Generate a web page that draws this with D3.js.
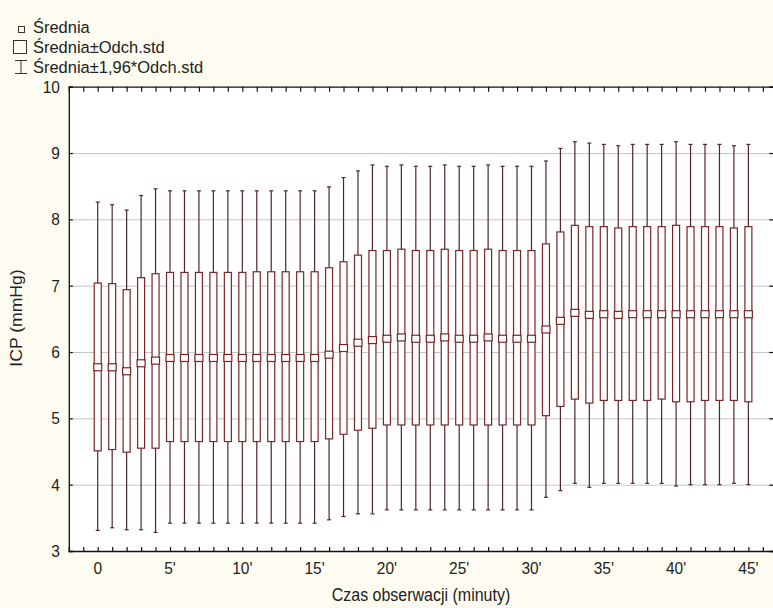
<!DOCTYPE html>
<html><head><meta charset="utf-8">
<script src="https://cdn.jsdelivr.net/npm/d3@7"></script>
<style>body{margin:0;background:#fefcf0;} svg{display:block;font-family:"Liberation Sans",Arial,sans-serif;}</style>
</head><body>
<svg id="c" width="773" height="608"></svg>
<script>
const minutes = d3.range(0, 46);
const tickLabels = ["0","5'","10'","15'","20'","25'","30'","35'","40'","45'"];
const yTicks = [3,4,5,6,7,8,9,10];
const meanVals = [5.77,5.77,5.71,5.83,5.87,5.91,5.91,5.91,5.91,5.91,5.91,5.91,5.91,5.91,5.91,5.91,5.96,6.06,6.14,6.18,6.20,6.22,6.20,6.20,6.22,6.20,6.20,6.22,6.20,6.20,6.20,6.34,6.47,6.59,6.56,6.57,6.56,6.57,6.57,6.57,6.57,6.57,6.57,6.57,6.57,6.57];
const sdLow = [4.51,4.53,4.49,4.55,4.55,4.65,4.65,4.65,4.65,4.65,4.65,4.65,4.65,4.65,4.65,4.65,4.69,4.76,4.82,4.85,4.90,4.90,4.90,4.90,4.90,4.90,4.90,4.90,4.90,4.90,4.90,5.04,5.18,5.29,5.23,5.27,5.27,5.27,5.27,5.29,5.25,5.25,5.27,5.27,5.27,5.25];
const sdHigh = [7.04,7.03,6.94,7.12,7.18,7.20,7.20,7.20,7.20,7.20,7.20,7.21,7.21,7.21,7.21,7.21,7.27,7.36,7.46,7.53,7.53,7.55,7.53,7.53,7.55,7.53,7.53,7.55,7.53,7.53,7.53,7.63,7.81,7.91,7.89,7.89,7.87,7.89,7.89,7.89,7.91,7.89,7.89,7.89,7.87,7.89];
const ciLow = [3.31,3.35,3.32,3.32,3.28,3.42,3.42,3.42,3.42,3.42,3.42,3.42,3.42,3.42,3.42,3.42,3.47,3.52,3.56,3.56,3.62,3.62,3.62,3.62,3.62,3.62,3.62,3.62,3.62,3.62,3.62,3.81,3.91,4.02,3.96,4.02,4.02,4.02,4.02,4.02,3.98,4.00,4.00,4.00,4.02,4.00];
const ciHigh = [8.26,8.22,8.14,8.36,8.46,8.43,8.43,8.43,8.43,8.43,8.43,8.43,8.43,8.43,8.43,8.43,8.49,8.63,8.73,8.82,8.80,8.82,8.80,8.80,8.82,8.80,8.80,8.82,8.80,8.80,8.80,8.88,9.07,9.17,9.15,9.13,9.11,9.13,9.13,9.13,9.17,9.13,9.13,9.13,9.11,9.13];

const svg = d3.select("#c");
const L = 68.8, R = 777.3, T = 86.7, B = 551;
const x = d3.scaleLinear().domain([-2, 47]).range([L, R]);
const y = d3.scaleLinear().domain([3, 10]).range([B, T]);
const boxCol = "#7a2626", whCol = "#4e2828";

svg.append("rect").attr("x", L).attr("y", T).attr("width", R - L).attr("height", B - T).attr("fill", "#fff");

// gridlines
svg.append("g").selectAll("line").data(yTicks.filter(v => v > 3 && v < 10)).join("line")
  .attr("x1", L).attr("x2", R).attr("y1", d => y(d) + 0.5).attr("y2", d => y(d) + 0.5)
  .attr("stroke", "#c6c6c6").attr("stroke-width", 1);

// frame axes
const catTicks = d3.range(-1, 47);
const axB = svg.append("g").attr("transform", `translate(0,${B})`)
  .call(d3.axisBottom(x).tickValues(catTicks).tickSize(-4).tickFormat(""));
const axT = svg.append("g").attr("transform", `translate(0,${T})`)
  .call(d3.axisTop(x).tickValues(catTicks).tickSize(-5).tickFormat(""));
const axL = svg.append("g").attr("transform", `translate(${L},0)`)
  .call(d3.axisLeft(y).tickValues(yTicks).tickSize(-4).tickFormat(""));
const axR = svg.append("g").attr("transform", `translate(${R},0)`)
  .call(d3.axisRight(y).tickValues(yTicks).tickSize(-8).tickFormat(""));
[axB, axT, axL, axR].forEach(a => {
  a.select(".domain").attr("stroke", "#111").attr("stroke-width", 1.3);
  a.selectAll(".tick line").attr("stroke", "#111").attr("stroke-width", 1.2);
});

// tick labels
svg.append("g").selectAll("text").data(yTicks).join("text")
  .attr("x", 60).attr("y", d => y(d)).attr("dy", "0.36em")
  .attr("text-anchor", "end").attr("font-size", 15.5).attr("fill", "#222")
  .attr("transform", d => `translate(0,${y(d)}) scale(1,1.1) translate(0,${-y(d)})`)
  .text(d => d);
svg.append("g").selectAll("text").data(tickLabels).join("text")
  .attr("x", (d, i) => x(i * 5)).attr("y", 574)
  .attr("text-anchor", "middle").attr("font-size", 15.5).attr("fill", "#222")
  .attr("transform", `translate(0,574) scale(1,1.1) translate(0,-574)`)
  .text(d => d);

// boxes
const g = svg.append("g");
minutes.forEach((m, i) => {
  const cx = x(m);
  g.append("line").attr("x1", cx).attr("x2", cx).attr("y1", y(ciLow[i])).attr("y2", y(ciHigh[i]))
    .attr("stroke", whCol).attr("stroke-width", 1.2);
  [ciLow[i], ciHigh[i]].forEach(v => g.append("line").attr("x1", cx - 2).attr("x2", cx + 2)
    .attr("y1", y(v)).attr("y2", y(v)).attr("stroke", whCol).attr("stroke-width", 1.2));
  g.append("rect").attr("x", cx - 3.5).attr("y", y(sdHigh[i])).attr("width", 7)
    .attr("height", y(sdLow[i]) - y(sdHigh[i])).attr("fill", "#fff")
    .attr("stroke", boxCol).attr("stroke-width", 1.2);
  g.append("rect").attr("x", cx - 4).attr("y", y(meanVals[i]) - 3.5).attr("width", 8).attr("height", 7)
    .attr("fill", "#fff").attr("stroke", boxCol).attr("stroke-width", 1.2);
});

// axis titles
svg.append("text").attr("x", 421).attr("y", 601).attr("text-anchor", "middle")
  .attr("font-size", 16).attr("fill", "#222")
  .attr("transform", `translate(0,601) scale(1,1.12) translate(0,-601)`)
  .text("Czas obserwacji (minuty)");
svg.append("text").attr("transform", "translate(22,318) rotate(-90) scale(1.1,1)")
  .attr("text-anchor", "middle").attr("font-size", 16).attr("fill", "#222")
  .text("ICP (mmHg)");

// legend
const lg = svg.append("g");
lg.append("rect").attr("x", 18.5).attr("y", 26.5).attr("width", 6).attr("height", 6)
  .attr("fill", "none").attr("stroke", "#333").attr("stroke-width", 1);
lg.append("rect").attr("x", 13.5).attr("y", 40.5).attr("width", 13).attr("height", 13)
  .attr("fill", "none").attr("stroke", "#333").attr("stroke-width", 1);
lg.append("line").attr("x1", 21).attr("x2", 21).attr("y1", 60).attr("y2", 73).attr("stroke", "#333");
lg.append("line").attr("x1", 15).attr("x2", 27).attr("y1", 60.5).attr("y2", 60.5).attr("stroke", "#333");
lg.append("line").attr("x1", 15).attr("x2", 27).attr("y1", 73.5).attr("y2", 73.5).attr("stroke", "#333");
const legTexts = ["Średnia", "Średnia±Odch.std", "Średnia±1,96*Odch.std"];
const legY = [33, 53, 73];
lg.selectAll("text").data(legTexts).join("text")
  .attr("x", 32).attr("y", (d, i) => legY[i]).attr("font-size", 16).attr("fill", "#222")
  .attr("transform", (d, i) => `translate(0,${legY[i]}) scale(1.03,1.06) translate(0,${-legY[i]})`)
  .text(d => d);
</script>
</body></html>
